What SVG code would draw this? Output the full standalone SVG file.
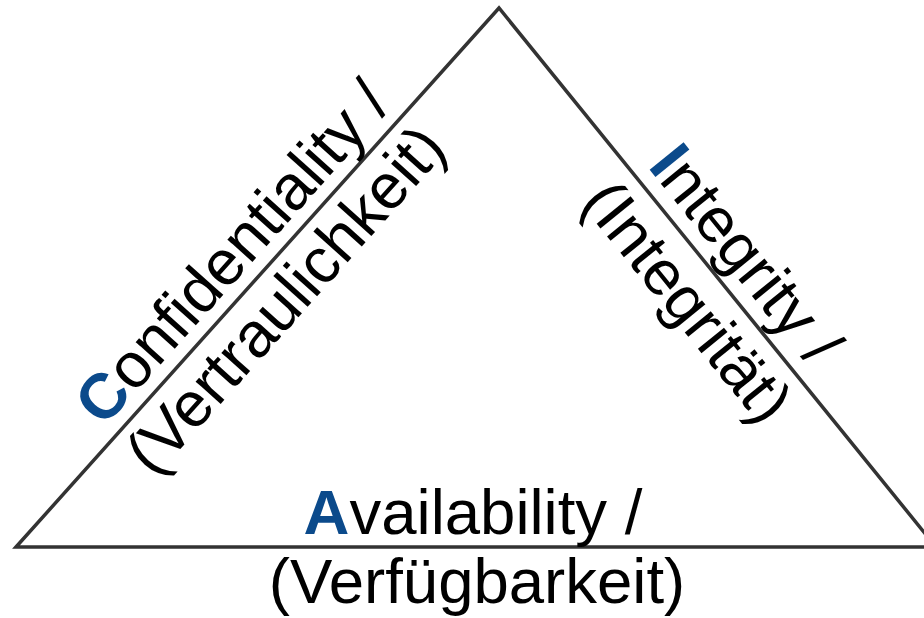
<svg xmlns="http://www.w3.org/2000/svg" width="924" height="618" viewBox="0 0 924 618">
  <style>
    .edge { fill: none; stroke: #333333; stroke-width: 3.5; stroke-linejoin: miter; }
    .lbl { font-family: "Liberation Sans", Arial, sans-serif; font-size: 63.5px; fill: #000000; text-anchor: middle; }
    .key { font-weight: bold; fill: #0B4A8B; }
  </style>
  <rect width="924" height="618" fill="#ffffff"/>

  <!-- triangle sides -->
  <g id="connectors">
    <polygon class="edge" points="16,547 499,8 936,547"/>
  </g>

  <!-- left side: confidentiality -->
  <g id="confidentiality" transform="translate(257.5,277.5) rotate(-48.13)">
    <text class="lbl" x="2" y="-14"><tspan class="key">C</tspan>onfidentiality /</text>
    <text class="lbl" x="2" y="57">(Vertraulichkeit)</text>
  </g>

  <!-- right side: integrity -->
  <g id="integrity" transform="translate(717.5,277.5) rotate(50.96)">
    <text class="lbl" x="0" y="-15"><tspan class="key">I</tspan>ntegrity /</text>
    <text class="lbl" x="0" y="60">(Integrität)</text>
  </g>

  <!-- base: availability -->
  <g id="availability">
    <text class="lbl" x="473" y="534"><tspan class="key">A</tspan>vailability /</text>
    <text class="lbl" x="477" y="603">(Verfügbarkeit)</text>
  </g>
</svg>
